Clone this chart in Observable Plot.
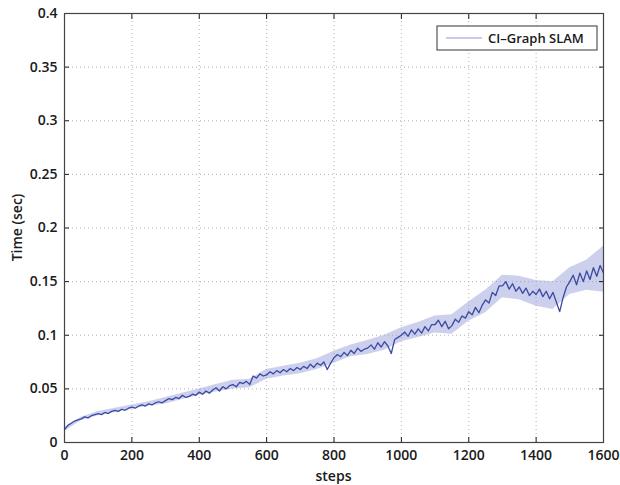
<!DOCTYPE html>
<html>
<head>
<meta charset="utf-8">
<script src="https://cdn.jsdelivr.net/npm/d3@7"></script>
<script src="https://cdn.jsdelivr.net/npm/@observablehq/plot@0.6"></script>
<style>
  html, body { margin: 0; padding: 0; background: #fff; }
  #chart svg { display: block; }
</style>
</head>
<body>
<div id="chart"></div>
<script>
// ---- data ----
const seriesName = "CI–Graph SLAM";
const stepStart = 0;
const stepSize = 10;
const timeValues = [
  0.012, 0.016, 0.018, 0.020, 0.021, 0.022, 0.024, 0.023, 0.025, 0.026,
  0.027, 0.026, 0.028, 0.027, 0.029, 0.030, 0.029, 0.031, 0.030, 0.032,
  0.033, 0.032, 0.034, 0.035, 0.034, 0.036, 0.035, 0.037, 0.038, 0.037,
  0.039, 0.041, 0.040, 0.042, 0.041, 0.044, 0.042, 0.043, 0.045, 0.044,
  0.047, 0.045, 0.048, 0.046, 0.049, 0.051, 0.048, 0.052, 0.050, 0.053,
  0.054, 0.052, 0.056, 0.055, 0.057, 0.054, 0.062, 0.060, 0.064, 0.062,
  0.063, 0.066, 0.064, 0.067, 0.065, 0.068, 0.066, 0.069, 0.067, 0.070,
  0.068, 0.071, 0.069, 0.073, 0.070, 0.074, 0.072, 0.075, 0.068, 0.074,
  0.079, 0.082, 0.080, 0.084, 0.081, 0.086, 0.083, 0.088, 0.085, 0.087,
  0.088, 0.091, 0.087, 0.093, 0.089, 0.094, 0.090, 0.083, 0.096, 0.098,
  0.100, 0.103, 0.099, 0.105, 0.101, 0.106, 0.102, 0.108, 0.104, 0.110,
  0.110, 0.114, 0.108, 0.113, 0.106, 0.109, 0.115, 0.112, 0.118, 0.116,
  0.122, 0.119, 0.126, 0.121, 0.128, 0.133, 0.130, 0.140, 0.137, 0.146,
  0.146, 0.150, 0.143, 0.148, 0.141, 0.145, 0.139, 0.144, 0.137, 0.141,
  0.138, 0.143, 0.136, 0.141, 0.134, 0.140, 0.131, 0.122, 0.135, 0.145,
  0.150, 0.156, 0.147, 0.158, 0.150, 0.160, 0.152, 0.163, 0.155, 0.165,
  0.158
];
// noise envelope (light band) read every 50 steps
const bandSteps = [0,50,100,150,200,250,300,350,400,450,500,550,600,650,700,750,800,850,900,950,1000,1050,1100,1150,1200,1250,1300,1350,1400,1450,1500,1550,1600];
const bandLow  = [0.010,0.0205,0.025,0.028,0.031,0.034,0.036,0.040,0.044,0.047,0.050,0.051,0.059,0.062,0.064,0.068,0.074,0.080,0.082,0.086,0.094,0.098,0.102,0.101,0.113,0.121,0.135,0.133,0.127,0.124,0.138,0.142,0.140];
const bandHigh = [0.014,0.0235,0.029,0.032,0.035,0.038,0.042,0.046,0.050,0.054,0.058,0.059,0.068,0.071,0.074,0.078,0.085,0.091,0.095,0.100,0.107,0.112,0.118,0.119,0.131,0.142,0.156,0.155,0.151,0.150,0.163,0.170,0.183];

const xTicks = [0, 200, 400, 600, 800, 1000, 1200, 1400, 1600];
const yTicks = [0, 0.05, 0.1, 0.15, 0.2, 0.25, 0.3, 0.35, 0.4];
const xLabel = "steps";
const yLabel = "Time (sec)";

// ---- build tables ----
const lineData = timeValues.map((v, i) => ({step: stepStart + i * stepSize, time: v}));
const bandData = bandSteps.map((s, i) => ({step: s, lo: bandLow[i], hi: bandHigh[i]}));

const FONT = "'Open Sans', 'Liberation Sans', sans-serif";

const chart = Plot.plot({
  width: 620,
  height: 485,
  marginLeft: 64,
  marginRight: 17,
  marginTop: 13,
  marginBottom: 43,
  style: {fontFamily: FONT, fontSize: "14px", fontWeight: 600, color: "#1a1a1a", background: "#fff"},
  x: {domain: [0, 1600], ticks: xTicks},
  y: {domain: [0, 0.4], ticks: yTicks},
  marks: [
    Plot.gridX(xTicks, {stroke: "#aaa", strokeOpacity: 0.9, strokeDasharray: "1,3"}),
    Plot.gridY(yTicks, {stroke: "#aaa", strokeOpacity: 0.9, strokeDasharray: "1,3"}),
    Plot.areaY(bandData, {x: "step", y1: "lo", y2: "hi", fill: "#8e96d4", fillOpacity: 0.45}),
    Plot.line(lineData, {x: "step", y: "time", stroke: "#3a49a3", strokeWidth: 1.3}),
    Plot.axisX(xTicks, {anchor: "bottom", tickSize: -5, tickPadding: 13, label: null, tickFormat: d => String(d), fontSize: 14}),
    Plot.axisX(xTicks, {anchor: "top", tickSize: -5, tickFormat: () => "", label: null}),
    Plot.axisY(yTicks, {anchor: "left", tickSize: -5, tickPadding: 12, label: null, tickFormat: d => String(d), fontSize: 14}),
    Plot.axisY(yTicks, {anchor: "right", tickSize: -5, tickFormat: () => "", label: null}),
    Plot.frame({stroke: "#444", strokeWidth: 1.2})
  ]
});

const svg = d3.select(chart);
// axis titles
svg.append("text")
  .attr("x", 64 + (620 - 64 - 17) / 2).attr("y", 481)
  .attr("text-anchor", "middle")
  .attr("font-family", FONT).attr("font-size", 14).attr("font-weight", 600).attr("fill", "#1a1a1a")
  .text(xLabel);
svg.append("text")
  .attr("transform", `translate(22, ${13 + (485 - 13 - 43) / 2}) rotate(-90)`)
  .attr("text-anchor", "middle")
  .attr("font-family", FONT).attr("font-size", 14).attr("font-weight", 600).attr("fill", "#1a1a1a")
  .text(yLabel);
// legend
const lg = svg.append("g");
lg.append("rect").attr("x", 437).attr("y", 26).attr("width", 160).attr("height", 24)
  .attr("fill", "#fff").attr("stroke", "#555").attr("stroke-width", 1.2);
lg.append("line").attr("x1", 446).attr("x2", 482).attr("y1", 38).attr("y2", 38)
  .attr("stroke", "#8f95d8").attr("stroke-width", 1);
lg.append("text").attr("x", 488).attr("y", 43)
  .attr("text-anchor", "start")
  .attr("font-family", FONT).attr("font-size", 13).attr("font-weight", 600).attr("fill", "#1a1a1a")
  .text(seriesName);

document.getElementById("chart").appendChild(chart);
</script>
</body>
</html>
